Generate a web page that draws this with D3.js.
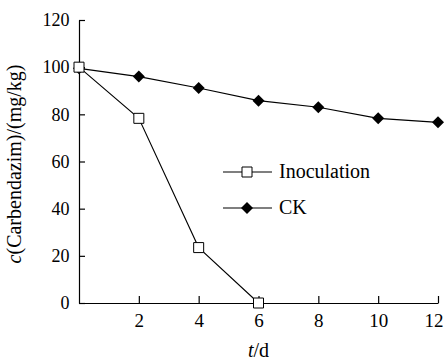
<!DOCTYPE html>
<html>
<head>
<meta charset="utf-8">
<script src="https://cdn.jsdelivr.net/npm/d3@7"></script>
</head>
<body style="margin:0">
<script>
// data
var days = [0, 2, 4, 6, 8, 10, 12];
var inoculation = [100, 78.3, 23.5, 0];
var ck = [99.5, 96, 91.2, 85.8, 83, 78.3, 76.6];
var xTicks = [2, 4, 6, 8, 10, 12];
var yTicks = [0, 20, 40, 60, 80, 100, 120];
var seriesNames = ["Inoculation", "CK"];

var svg = d3.select("body")
  .append("svg")
  .attr("width", 446)
  .attr("height", 362);

var x = d3.scaleLinear().domain([0, 12]).range([79, 438]);
var y = d3.scaleLinear().domain([0, 120]).range([303, 20]);

// axes, ticks point inward
var xAxis = d3.axisBottom(x)
  .tickValues(xTicks)
  .tickSizeInner(-7)
  .tickSizeOuter(0)
  .tickPadding(11);

var yAxis = d3.axisLeft(y)
  .tickValues(yTicks)
  .tickSizeInner(-6)
  .tickSizeOuter(0)
  .tickPadding(9.5);

var gx = svg.append("g")
  .attr("transform", `translate(0, ${y(0)})`)
  .call(xAxis);
gx.selectAll("text").style("font-family", "Times New Roman").style("font-size", "19px");

var gy = svg.append("g")
  .attr("transform", `translate(${x(0)}, 0)`)
  .call(yAxis);
gy.selectAll("text").style("font-family", "Times New Roman").style("font-size", "18px");

// last x label sits at the right edge
gx.selectAll(".tick text").filter(d => d == 12).attr("text-anchor", "end").attr("dx", 5);

svg.selectAll(".domain, .tick line")
  .attr("stroke", "#000")
  .attr("stroke-width", 1.2);

// lines
var line = d3.line()
  .x(d => x(d[0]))
  .y(d => y(d[1]));

var inocPts = inoculation.map((v, i) => [days[i], v]);
var ckPts = ck.map((v, i) => [days[i], v]);

svg.append("path")
  .datum(inocPts)
  .attr("d", line)
  .attr("fill", "none")
  .attr("stroke", "#000")
  .attr("stroke-width", 1.1);

svg.append("path")
  .datum(ckPts)
  .attr("d", line)
  .attr("fill", "none")
  .attr("stroke", "#000")
  .attr("stroke-width", 1.1);

var square = d3.symbol().type(d3.symbolSquare).size(100);
var diamond = d3.symbol().type(d3.symbolSquare).size(72);

svg.selectAll(".ck")
  .data(ckPts)
  .enter()
  .append("path")
  .attr("class", "ck")
  .attr("d", diamond)
  .attr("transform", d => `translate(${x(d[0])}, ${y(d[1])}) rotate(45)`)
  .attr("fill", "#000");

svg.selectAll(".inoc")
  .data(inocPts)
  .enter()
  .append("path")
  .attr("class", "inoc")
  .attr("d", square)
  .attr("transform", d => `translate(${x(d[0])}, ${y(d[1])})`)
  .attr("fill", "#fff")
  .attr("stroke", "#000")
  .attr("stroke-width", 1);

// legend
var legend = svg.append("g").attr("transform", "translate(223, 172)");
seriesNames.forEach(function(name, i) {
  var row = legend.append("g").attr("transform", `translate(0, ${i * 36})`);
  row.append("line")
    .attr("x1", 0).attr("x2", 49)
    .attr("stroke", "#000").attr("stroke-width", 1.1);
  row.append("path")
    .attr("transform", i == 0 ? "translate(24, 0)" : "translate(24, 0) rotate(45)")
    .attr("d", i == 0 ? square : diamond)
    .attr("fill", i == 0 ? "#fff" : "#000")
    .attr("stroke", i == 0 ? "#000" : "none");
  row.append("text")
    .attr("x", 56)
    .attr("y", 6)
    .style("font-family", "Liberation Serif")
    .style("font-size", "20px")
    .text(name);
});

// axis titles
var xt = svg.append("text")
  .attr("x", x(6))
  .attr("y", 357)
  .attr("text-anchor", "middle")
  .style("font-family", "serif")
  .style("font-size", "20px");
xt.append("tspan").style("font-style", "italic").text("t");
xt.append("tspan").text("/d");

var yt = svg.append("text")
  .attr("transform", "translate(21, 164) rotate(-90)")
  .attr("text-anchor", "middle")
  .style("font-family", "serif")
  .style("font-size", "20px");
yt.append("tspan").style("font-style", "italic").text("c");
yt.append("tspan").text("(Carbendazim)/(mg/kg)");
</script>
</body>
</html>
